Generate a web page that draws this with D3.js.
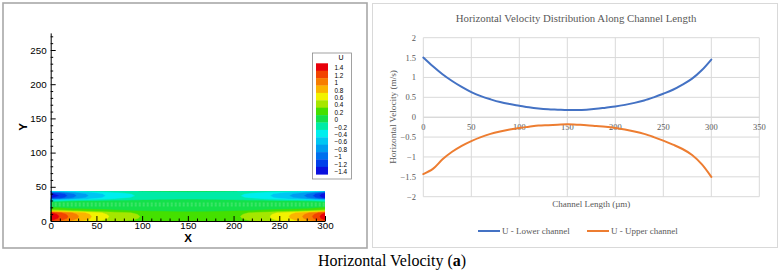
<!DOCTYPE html>
<html><head><meta charset="utf-8">
<script src="https://cdn.jsdelivr.net/npm/d3@7"></script>
<style>
html,body{margin:0;padding:0;background:#fff;}
svg{display:block;}
</style></head><body>
<svg id="c" width="784" height="274"></svg>
<script>
// ---------- data ----------
const lengthX = [0,10,20,30,40,50,60,70,80,90,100,110,120,130,140,150,160,170,180,190,200,210,220,230,240,250,260,270,280,290,300];
const uLower = [1.50,1.28,1.08,0.91,0.76,0.63,0.53,0.45,0.38,0.33,0.29,0.25,0.22,0.20,0.19,0.18,0.18,0.19,0.21,0.24,0.27,0.31,0.36,0.42,0.50,0.59,0.69,0.82,0.97,1.18,1.45];
const uUpper = [-1.43,-1.30,-1.06,-0.87,-0.72,-0.60,-0.50,-0.42,-0.36,-0.31,-0.27,-0.24,-0.21,-0.20,-0.19,-0.18,-0.19,-0.20,-0.22,-0.24,-0.27,-0.31,-0.36,-0.42,-0.50,-0.59,-0.69,-0.80,-0.95,-1.18,-1.50];
const seriesNames = ["U - Lower channel","U - Upper channel"];
const seriesColors = ["#4472C4","#ED7D31"];

// cross-channel profile of the contour field (y positions and relative weights)
const rowY        = [0,   1.5, 4,    7, 10,   12,   13.5, 15,  18,  22,   26,   29,  30.5, 32,  34,   37, 40,   42,   44];
const lowerWeight = [0.8, 0.9, 0.98, 1, 0.96, 0.88, 0.55, 0.3, 0.1, 0.03, 0,    0,   0,    0,   0,    0,  0,    0,    0];
const upperWeight = [0,   0,   0,    0, 0,    0,    0,    0,   0,   0,    0.02, 0.1, 0.35, 0.7, 0.93, 1,  0.94, 0.75, 0.35];

const levels = [1.4,1.2,1,0.8,0.6,0.4,0.2,0,-0.2,-0.4,-0.6,-0.8,-1,-1.2,-1.4];
const levelColors = ["#e8000a","#f24400","#f77d00","#fbb400","#f2f200","#a6e600","#44e000","#14e04a","#00eba6","#00eeee","#00c6f2","#009cf0","#0070ee","#0040ea","#0a10de"];
const levelLabels = ["1.4","1.2","1","0.8","0.6","0.4","0.2","0","\u22120.2","\u22120.4","\u22120.6","\u22120.8","\u22121","\u22121.2","\u22121.4"];

const leftXTicks = [0,50,100,150,200,250,300];
const leftYTicks = [0,50,100,150,200,250];
const rightXTicks = [0,50,100,150,200,250,300,350];
const rightYTicks = [-2,-1.5,-1,-0.5,0,0.5,1,1.5,2];

// ---------- drawing ----------
const svg = d3.select("#c");
const fmtMinus = d => (d < 0 ? "\u2212" + Math.abs(d) : String(d));

// panel frames
svg.append("rect").attr("x",3).attr("y",3).attr("width",364).attr("height",245)
  .attr("fill","#fff").attr("stroke","#a8a8a8").attr("stroke-width",1.6);
svg.append("rect").attr("x",372.5).attr("y",3.5).attr("width",405).attr("height",244)
  .attr("fill","#fff").attr("stroke","#d9d9d9").attr("stroke-width",1);

// ===== LEFT: contour plot =====
const xL = d3.scaleLinear().domain([0,300]).range([50.7,325]);
const yL = d3.scaleLinear().domain([0,275]).range([221,32.9]);

const nx = lengthX.length, ny = rowY.length;
const grid = new Array(nx*ny);
for (let j=0;j<ny;j++) for (let i=0;i<nx;i++)
  grid[i + j*nx] = lowerWeight[j]*uLower[i] + upperWeight[j]*uUpper[i];

const thresholds = levels.slice().reverse().map((v,k)=> k===0 ? -10 : +(v-0.1).toFixed(2));
const colorsAsc = levelColors.slice().reverse();
const contours = d3.contours().size([nx,ny]).thresholds(thresholds)(grid);

const gx = d3.scaleLinear().domain([0, ...lengthX.map((d,i)=>i+0.5), nx]).range([lengthX[0], ...lengthX, lengthX[nx-1]]);
const gy = d3.scaleLinear().domain([0, ...rowY.map((d,i)=>i+0.5), ny]).range([rowY[0], ...rowY, rowY[ny-1]]);
const proj = d3.geoTransform({point(x,y){ this.stream.point(xL(gx(x)), yL(gy(y))); }});
const cpath = d3.geoPath(proj);

svg.append("clipPath").attr("id","fieldclip").append("rect")
  .attr("x",xL(0)).attr("y",yL(rowY[ny-1])).attr("width",xL(300)-xL(0)).attr("height",yL(0)-yL(rowY[ny-1]));
const field = svg.append("g").attr("clip-path","url(#fieldclip)");
field.selectAll("path.c").data(contours).join("path").attr("class","c")
  .attr("d",cpath).attr("fill",(d,i)=>colorsAsc[i]).attr("stroke",(d,i)=>colorsAsc[i]).attr("stroke-width",0.4);
// mesh artefact stripes in the middle layer
[25.5,22.5].forEach((yy,k)=>{
  field.append("line").attr("x1",xL(0)).attr("x2",xL(300)).attr("y1",yL(yy)).attr("y2",yL(yy))
    .attr("stroke","#5ee884").attr("stroke-width",k===0?2.2:1.6).attr("stroke-dasharray","2,2").attr("opacity",0.55);
});

// axes
const fontSans = "'Liberation Sans', Arial, sans-serif";
const axY = d3.axisLeft(yL).tickValues(leftYTicks).tickSizeInner(-5).tickSizeOuter(0).tickPadding(4);
const gY = svg.append("g").attr("transform",`translate(${xL(0)},0)`).call(axY);
const minorY = d3.range(0,276,10).filter(v=>v%50!==0);
svg.append("g").attr("transform",`translate(${xL(0)},0)`)
  .call(d3.axisLeft(yL).tickValues(minorY).tickSizeInner(-2.5).tickSizeOuter(0).tickFormat(""))
  .select(".domain").remove();
const axX = d3.axisBottom(xL).tickValues(leftXTicks).tickSizeInner(-5).tickSizeOuter(0).tickPadding(1);
const gX = svg.append("g").attr("transform",`translate(0,${yL(0)})`).call(axX);
const minorX = d3.range(0,301,10).filter(v=>v%50!==0);
svg.append("g").attr("transform",`translate(0,${yL(0)})`)
  .call(d3.axisBottom(xL).tickValues(minorX).tickSizeInner(-2.5).tickSizeOuter(0).tickFormat(""))
  .select(".domain").remove();
[gY,gX].forEach(g=>{
  g.selectAll("text").attr("font-family",fontSans).attr("font-size",9.8).attr("fill","#000");
  g.selectAll("line,path").attr("stroke","#000");
});
svg.selectAll(".tick line").attr("stroke","#000");
svg.append("text").attr("x",188).attr("y",242).attr("text-anchor","middle")
  .attr("font-family",fontSans).attr("font-weight","bold").attr("font-size",11.5).text("X");
svg.append("text").attr("transform","translate(27,127) rotate(-90)").attr("text-anchor","middle")
  .attr("font-family",fontSans).attr("font-weight","bold").attr("font-size",11.5).text("Y");

// colour legend
svg.append("rect").attr("x",312.5).attr("y",53).attr("width",39).attr("height",126)
  .attr("fill","#fff").attr("stroke","#8a8a8a").attr("stroke-width",0.8);
svg.append("text").attr("x",341).attr("y",60).attr("text-anchor","middle")
  .attr("font-family",fontSans).attr("font-size",7).text("U");
const lb = d3.scaleBand().domain(levels).range([63.3,174.3]);
svg.selectAll("rect.lv").data(levels).join("rect").attr("class","lv")
  .attr("x",316).attr("width",12).attr("y",d=>lb(d)).attr("height",lb.bandwidth()+0.3)
  .attr("fill",(d,i)=>levelColors[i]);
svg.selectAll("text.lv").data(levels).join("text").attr("class","lv")
  .attr("x",334.5).attr("y",(d)=>lb(d)+lb.bandwidth()/2+3.4)
  .attr("font-family",fontSans).attr("font-size",6.4).text((d,i)=>levelLabels[i]);

// ===== RIGHT: line chart =====
const fontSerif = "'Liberation Serif','Times New Roman',serif";
const xR = d3.scaleLinear().domain([0,350]).range([423.3,759.3]);
const yR = d3.scaleLinear().domain([-2,2]).range([196.7,37.7]);
const gridC = "#d9d9d9";
svg.append("g").selectAll("line").data(rightYTicks).join("line")
  .attr("x1",xR(0)).attr("x2",xR(350)).attr("y1",d=>yR(d)).attr("y2",d=>yR(d))
  .attr("stroke",d=>d===0?"#c8c8c8":gridC).attr("stroke-width",1);
svg.append("g").selectAll("line").data(rightXTicks).join("line")
  .attr("x1",d=>xR(d)).attr("x2",d=>xR(d)).attr("y1",yR(2)).attr("y2",yR(-2))
  .attr("stroke",gridC).attr("stroke-width",1);

svg.append("g").selectAll("text").data(rightYTicks).join("text")
  .attr("x",416).attr("y",d=>yR(d)+3).attr("text-anchor","end")
  .attr("font-family",fontSerif).attr("font-size",8.5).attr("fill","#595959").text(fmtMinus);
svg.append("g").selectAll("text").data(rightXTicks).join("text")
  .attr("x",d=>xR(d)).attr("y",yR(0)+12.5).attr("text-anchor","middle")
  .attr("font-family",fontSerif).attr("font-size",8.5).attr("fill","#595959").text(d=>d);

const line = d3.line().x((d,i)=>xR(lengthX[i])).y(d=>yR(d)).curve(d3.curveCatmullRom.alpha(0.5));
[uLower,uUpper].forEach((s,k)=>{
  svg.append("path").attr("d",line(s)).attr("fill","none").attr("stroke",seriesColors[k])
    .attr("stroke-width",2).attr("stroke-linecap","round");
});

svg.append("text").attr("x",576).attr("y",22).attr("text-anchor","middle")
  .attr("font-family",fontSerif).attr("font-size",10.8).attr("fill","#595959")
  .text("Horizontal Velocity Distribution Along Channel Length");
svg.append("text").attr("x",591.3).attr("y",207).attr("text-anchor","middle")
  .attr("font-family",fontSerif).attr("font-size",9).attr("fill","#595959")
  .text("Channel Length (\u00b5m)");
svg.append("text").attr("transform","translate(396,117) rotate(-90)").attr("text-anchor","middle")
  .attr("font-family",fontSerif).attr("font-size",9.2).attr("fill","#595959")
  .text("Horizontal Velocity (m/s)");

// legend
const legX = [478, 587];
seriesNames.forEach((n,k)=>{
  svg.append("line").attr("x1",legX[k]).attr("x2",legX[k]+22).attr("y1",231).attr("y2",231)
    .attr("stroke",seriesColors[k]).attr("stroke-width",2);
  svg.append("text").attr("x",legX[k]+24).attr("y",234).attr("font-family",fontSerif)
    .attr("font-size",9).attr("fill","#595959").text(n);
});

// caption
const cap = svg.append("text").attr("x",392).attr("y",266).attr("text-anchor","middle")
  .attr("font-family",fontSerif).attr("font-size",16).attr("fill","#000");
cap.append("tspan").text("Horizontal Velocity (");
cap.append("tspan").attr("font-weight","bold").text("a");
cap.append("tspan").text(")");
</script>
</body></html>
